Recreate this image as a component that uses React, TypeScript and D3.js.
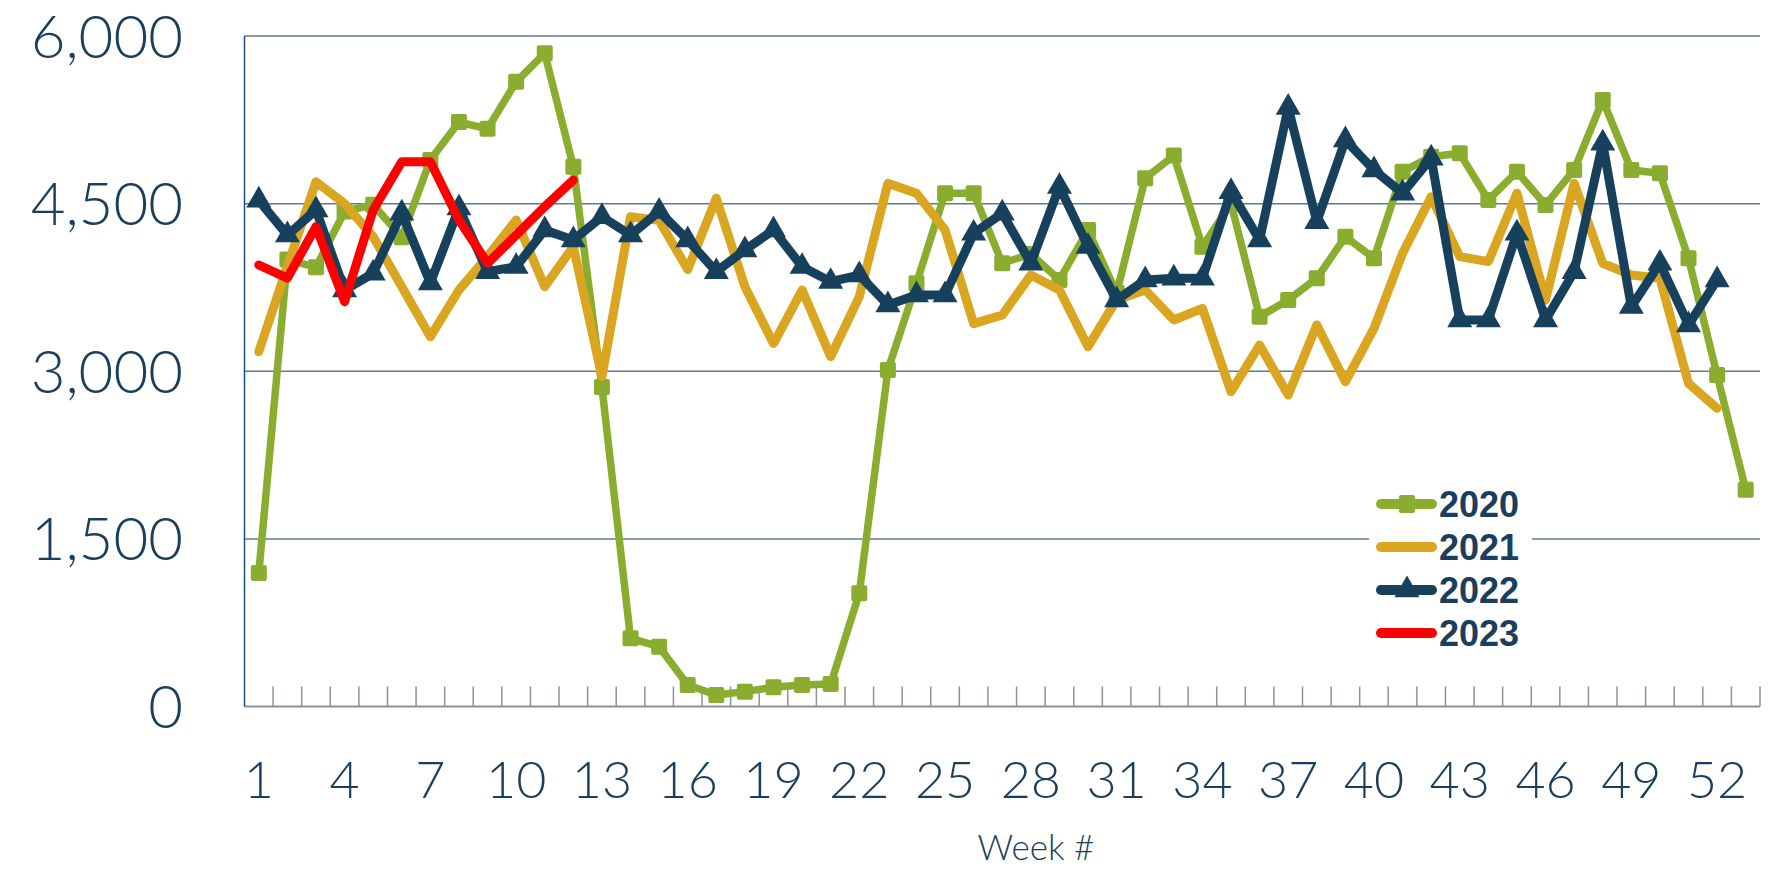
import React from 'react';
import * as d3 from 'd3';

const weeks = [
  1, 2, 3, 4, 5, 6, 7, 8, 9, 10, 11, 12, 13, 14, 15, 16, 17, 18, 19, 20, 21, 22, 23, 24, 25, 26, 27,
  28, 29, 30, 31, 32, 33, 34, 35, 36, 37, 38, 39, 40, 41, 42, 43, 44, 45, 46, 47, 48, 49, 50, 51, 52, 53,
];
const weekLabels = [1, 4, 7, 10, 13, 16, 19, 22, 25, 28, 31, 34, 37, 40, 43, 46, 49, 52];
const yTicks = [0, 1500, 3000, 4500, 6000];

const v2020 = [
  1195, 4000, 3930, 4430, 4490, 4200, 4890, 5230, 5170, 5590, 5845, 4830, 2860, 610, 535, 192, 103, 133,
  172, 192, 201, 1013, 3011, 3787, 4593, 4593, 3966, 4050, 3817, 4264, 3700, 4727, 4930, 4115, 4500, 3488,
  3638, 3832, 4204, 4011, 4786, 4920, 4950, 4533, 4786, 4488, 4801, 5427, 4801, 4771, 4011, 2966, 1940,
];
const v2021 = [
  3175, 3940, 4696, 4500, 4204, 3757, 3309, 3727, 4026, 4353, 3757, 4115, 2951, 4383, 4350, 3910, 4548, 3757,
  3248, 3727, 3131, 3667, 4682, 4593, 4264, 3426, 3503, 3861, 3727, 3220, 3638, 3727, 3459, 3563, 2817, 3235,
  2787, 3414, 2906, 3384, 4056, 4562, 4026, 3981, 4593, 3638, 4682, 3966, 3861, 3832, 2892, 2668,
];
const v2022 = [
  4530, 4219, 4443, 3727, 3877, 4414, 3790, 4460, 3891, 3936, 4264, 4175, 4383, 4219, 4430, 4175, 3891, 4085,
  4264, 3936, 3802, 3861, 3593, 3682, 3682, 4234, 4414, 3966, 4652, 4115, 3638, 3817, 3832, 3832, 4607, 4175,
  5360, 4338, 5069, 4801, 4593, 4906, 3459, 3459, 4235, 3459, 3891, 5040, 3578, 3966, 3414, 3817,
];
const v2023 = [3951, 3834, 4294, 3622, 4443, 4875, 4875, 4353, 3966, 4219, 4473, 4711];

const series = [
  { name: '2020', values: v2020, color: '#8aad2f', width: 7.5, marker: 'square' },
  { name: '2021', values: v2021, color: '#daa520', width: 9, marker: 'none' },
  { name: '2022', values: v2022, color: '#17405c', width: 9, marker: 'triangle' },
  { name: '2023', values: v2023, color: '#ff0000', width: 9, marker: 'none' },
];

const W = 1772;
const H = 872;
const navy = '#1a3e5c';

const App = () => {
  const x = d3.scaleBand<number>().domain(weeks).range([244.5, 1760]).padding(0);
  const y = d3.scaleLinear().domain([0, 6000]).range([706.5, 36]);
  const cx = (w: number) => (x(w) as number) + x.bandwidth() / 2;

  const line = d3
    .line<number>()
    .x((_, i) => cx(weeks[i]))
    .y((d) => y(d));

  const tri = d3.symbol().type(d3.symbolTriangle).size(270);

  const legendRows = [504, 547, 590, 633];

  return (
    <svg width={W} height={H} style={{ position: 'absolute', left: 0, top: 0, background: '#fff' }}>
      {/* gridlines */}
      {yTicks.slice(1).map((t) => (
        <line key={t} x1={244.5} x2={1760} y1={y(t)} y2={y(t)} stroke="#5f7b90" strokeWidth={1.5} />
      ))}
      {/* category ticks */}
      {weeks.map((w) => (
        <line
          key={w}
          x1={(x(w) as number) + x.bandwidth()}
          x2={(x(w) as number) + x.bandwidth()}
          y1={y(0)}
          y2={y(0) - 20}
          stroke="#8a929b"
          strokeWidth={1.5}
        />
      ))}
      <line x1={244.5} x2={1760} y1={y(0)} y2={y(0)} stroke="#8a929b" strokeWidth={2} />
      <line x1={244.5} x2={244.5} y1={y(6000)} y2={y(0)} stroke="#1f4e79" strokeWidth={1.5} />

      {/* y labels */}
      {yTicks.map((t) => (
        <text
          key={t}
          x={183}
          y={y(t)}
          dy="0.36em"
          textAnchor="end"
          fontFamily="Lato, 'Open Sans', sans-serif"
          fontWeight={300}
          fontSize={60}
          fill={navy}
        >
          {d3.format(',')(t)}
        </text>
      ))}
      {/* x labels */}
      {weekLabels.map((w) => (
        <text
          key={w}
          x={cx(w)}
          y={798}
          textAnchor="middle"
          fontFamily="Lato, 'Open Sans', sans-serif"
          fontWeight={300}
          fontSize={52}
          fill={navy}
        >
          {w}
        </text>
      ))}
      <text
        x={1036}
        y={860}
        textAnchor="middle"
        fontFamily="Lato, 'Open Sans', sans-serif"
        fontWeight={300}
        fontSize={35}
        fill={navy}
      >
        Week #
      </text>

      {/* series */}
      {series.map((s) => (
        <g key={s.name}>
          <path
            d={line(s.values) || ''}
            fill="none"
            stroke={s.color}
            strokeWidth={s.width}
            strokeLinejoin="round"
            strokeLinecap="round"
          />
          {s.marker === 'square' &&
            s.values.map((v, i) => (
              <rect key={i} x={cx(weeks[i]) - 8} y={y(v) - 8} width={16} height={16} rx={2} fill={s.color} />
            ))}
          {s.marker === 'triangle' &&
            s.values.map((v, i) => (
              <path key={i} d={tri() || ''} transform={`translate(${cx(weeks[i])},${y(v)})`} fill={s.color} />
            ))}
        </g>
      ))}

      {/* legend */}
      <rect x={1369} y={480} width={163} height={176} fill="#fff" />
      {series.map((s, i) => (
        <g key={s.name} transform={`translate(0,${legendRows[i]})`}>
          <line x1={1381} x2={1432} y1={0} y2={0} stroke={s.color} strokeWidth={10} strokeLinecap="round" />
          {s.marker === 'square' && <rect x={1399} y={-9} width={16} height={18} rx={2} fill={s.color} />}
          {s.marker === 'triangle' && <path d={tri() || ''} transform="translate(1407,0)" fill={s.color} />}
          <text
            x={1439}
            y={13}
            fontFamily="'Liberation Sans', Arial, sans-serif"
            fontWeight="bold"
            fontSize={36}
            fill={navy}
          >
            {s.name}
          </text>
        </g>
      ))}
    </svg>
  );
};

export default App;
